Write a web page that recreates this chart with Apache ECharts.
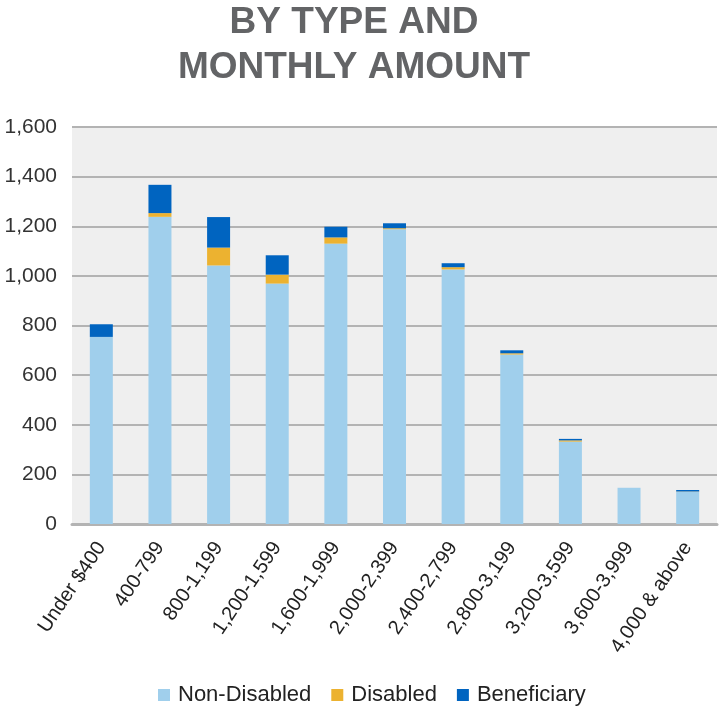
<!DOCTYPE html>
<html lang="en">
<head>
    <meta charset="UTF-8">
    <title>By Type and Monthly Amount</title>
    <script src="https://cdn.jsdelivr.net/npm/echarts@6/dist/echarts.min.js"></script>
    <style>
        html, body { margin: 0; padding: 0; background: #fff; }
    </style>
</head>
<body>
<div id="main" style="width: 719px;height:706px;"></div>

<script type="text/javascript">
    // categories and values
    var categories = ['Under $400', '400-799', '800-1,199', '1,200-1,599', '1,600-1,999', '2,000-2,399',
        '2,400-2,799', '2,800-3,199', '3,200-3,599', '3,600-3,999', '4,000 & above'];
    var nonDisabled = [754, 1238, 1042, 969, 1130, 1188, 1026, 683, 332, 146, 130];
    var disabled = [0, 15, 72, 36, 25, 4, 9, 5, 5, 0, 1];
    var beneficiary = [51, 114, 123, 78, 43, 20, 16, 12, 6, 0, 6];
    var yTicks = [0, 200, 400, 600, 800, 1000, 1200, 1400, 1600];

    var myChart = echarts.init(document.getElementById('main'));

    function addCommas(v) {
        return String(v).replace(/\B(?=(\d{3})+(?!\d))/g, ',');
    }

    var option = {
        animation: false,
        title: {
            text: 'BY TYPE AND\nMONTHLY AMOUNT',
            left: 349,
            textAlign: 'center',
            top: -5,
            textStyle: {
                fontFamily: 'Liberation Sans',
                fontWeight: 'bold',
                fontSize: 37,
                lineHeight: 45,
                color: '#636466'
            }
        },
        legend: {
            bottom: -5,
            left: 153,
            itemWidth: 12,
            itemHeight: 12,
            itemGap: 20,
            icon: 'rect',
            textStyle: {
                fontFamily: 'Liberation Sans',
                fontSize: 22,
                color: '#222',
                padding: [0, 0, 0, 3]
            },
            data: ['Non-Disabled', 'Disabled', 'Beneficiary']
        },
        grid: {
            left: 72,
            right: 2,
            top: 127,
            bottom: 182,
            show: true,
            backgroundColor: '#efefef',
            borderWidth: 0
        },
        xAxis: {
            type: 'category',
            data: categories,
            axisTick: { show: false },
            axisLine: { lineStyle: { color: '#b3b3b3', width: 3 } },
            axisLabel: {
                interval: 0,
                rotate: 56,
                margin: 20,
                fontFamily: 'Liberation Sans',
                fontSize: 20,
                color: '#222'
            }
        },
        yAxis: {
            type: 'value',
            min: yTicks[0],
            max: yTicks[yTicks.length - 1],
            interval: 200,
            axisLine: { show: false },
            axisTick: { show: false },
            splitLine: { lineStyle: { color: '#b3b3b3', width: 2 } },
            axisLabel: {
                margin: 15,
                fontFamily: 'Liberation Sans',
                fontSize: 21,
                color: '#333',
                formatter: addCommas
            }
        },
        series: [
            {
                name: 'Non-Disabled',
                type: 'bar',
                stack: 'total',
                barWidth: 23,
                itemStyle: { color: '#a0cfec' },
                data: nonDisabled
            },
            {
                name: 'Disabled',
                type: 'bar',
                stack: 'total',
                barWidth: 23,
                itemStyle: { color: '#ecb230' },
                data: disabled
            },
            {
                name: 'Beneficiary',
                type: 'bar',
                stack: 'total',
                barWidth: 23,
                itemStyle: { color: '#0064c0' },
                data: beneficiary
            }
        ]
    };

    myChart.setOption(option);
</script>
</body>
</html>
